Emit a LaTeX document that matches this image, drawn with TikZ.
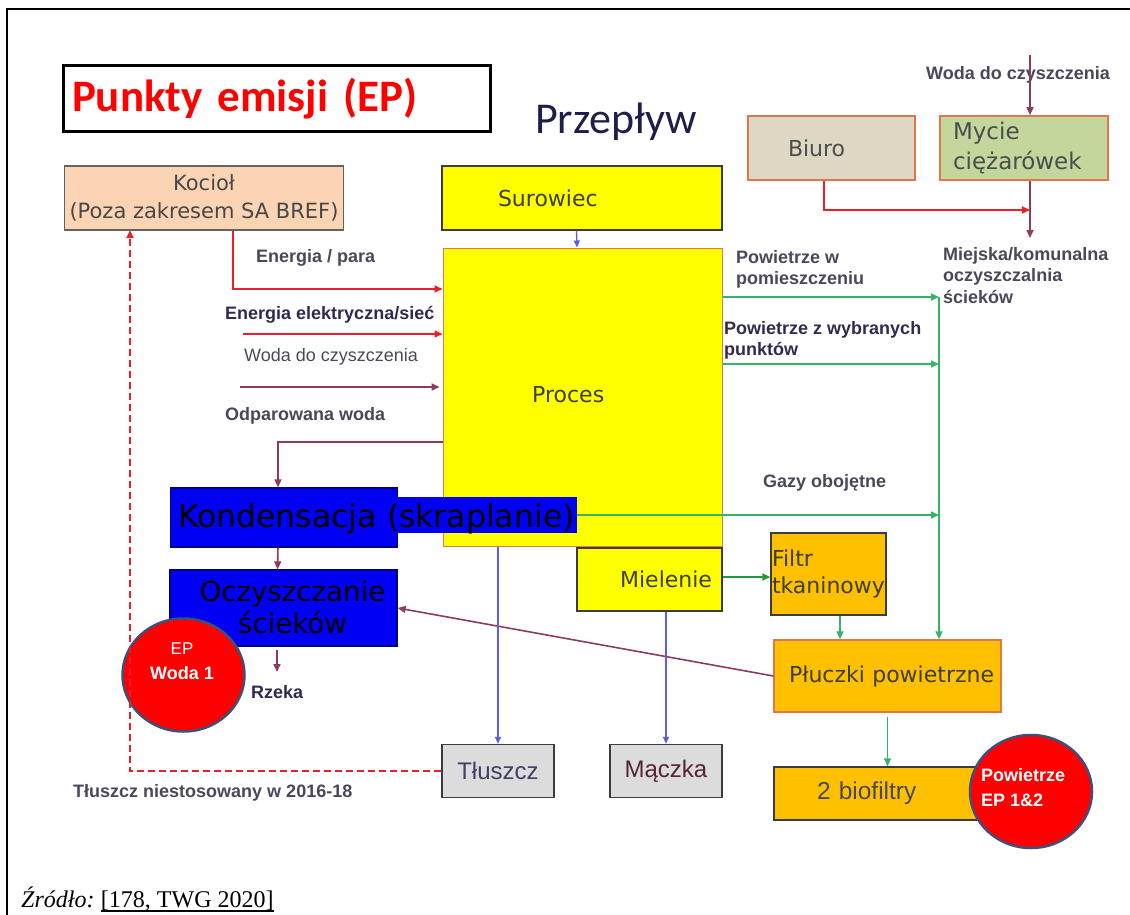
\documentclass[tikz,border=0pt]{standalone}
\usepackage{fontspec}
\setmainfont{Liberation Sans}
\newfontfamily\boxfont{DejaVu Sans}
\newfontfamily\titlefont{Carlito}
\newfontfamily\srcfont{Liberation Serif}
\usepackage{tikz}
\usetikzlibrary{positioning,arrows.meta,shapes.geometric,calc}

\definecolor{ProcYellow}{HTML}{FFFF00}
\definecolor{ProcEdge}{HTML}{E27A4A}
\definecolor{BoxEdge}{HTML}{3C3C3C}
\definecolor{BoxText}{HTML}{3E3E22}
\definecolor{BoilerFill}{HTML}{FBD4B4}
\definecolor{CondBlue}{HTML}{0000F2}
\definecolor{FilterFill}{HTML}{FFC000}
\definecolor{ProductFill}{HTML}{DCDCDC}
\definecolor{OfficeFill}{HTML}{DDD8C4}
\definecolor{WashFill}{HTML}{C3D69B}
\definecolor{SoftEdge}{HTML}{E0764E}
\definecolor{WaterLine}{HTML}{8E3A62}
\definecolor{EnergyLine}{HTML}{E8202A}
\definecolor{AirLine}{HTML}{34B468}
\definecolor{MillLine}{HTML}{1F9A3A}
\definecolor{SolidLine}{HTML}{5C5CF0}
\definecolor{LabelText}{HTML}{48485A}
\definecolor{DarkLabel}{HTML}{33294E}
\definecolor{EPRed}{HTML}{FF0000}
\definecolor{EPEdge}{HTML}{3F5078}
\definecolor{FlowTitle}{HTML}{1E1E4A}

\begin{document}
\begin{tikzpicture}[
  x=1pt, y=-1pt,
  box/.style={
    draw=BoxEdge,
    line width=1.3pt,
    inner sep=0pt,
    text=BoxText,
    font=\boxfont\fontsize{22}{27}\selectfont
  },
  proc/.style={box, fill=ProcYellow},
  filt/.style={box, fill=FilterFill},
  prod/.style={box, fill=ProductFill, font=\fontsize{24}{28}\selectfont},
  cond/.style={box, fill=CondBlue, draw=CondBlue!55!black, text=black},
  ep/.style={
    ellipse,
    draw=EPEdge,
    line width=2.5pt,
    fill=EPRed,
    minimum width=122pt,
    minimum height=113pt,
    inner sep=0pt
  },
  eptxt/.style={text=white, inner sep=0pt, font=\bfseries\fontsize{18}{25}\selectfont},
  lbl/.style={
    inner sep=0pt,
    align=left,
    text=LabelText,
    font=\bfseries\fontsize{18}{21.5}\selectfont
  },
  flow/.style={-{Triangle[length=8pt,width=7pt]}, line width=1.6pt},
  wflow/.style={flow, draw=WaterLine},
  eflow/.style={flow, draw=EnergyLine},
  aflow/.style={flow, draw=AirLine},
  mflow/.style={flow, draw=MillLine},
  sflow/.style={-{Triangle[length=7pt,width=6pt]}, line width=1.3pt, draw=SolidLine}
]
\useasboundingbox (0,0) rectangle (1130,915);

% page frame
\draw[line width=1.5pt] (7,915) -- (7,9) -- (1130,9);

% ---------------------------------------------------------
% headings
% ---------------------------------------------------------
\node[draw, line width=3pt, minimum height=66pt, inner xsep=9pt, text width=409pt,
      align=left, text=red, font=\titlefont\bfseries\fontsize{45}{50}\selectfont]
  (title) at (276.5,99) {\mbox{Punkty emisji (EP)}};

\node[anchor=base west, inner sep=0pt, text=FlowTitle,
      font=\titlefont\fontsize{44}{48}\selectfont]
  (flowtitle) at (535,134) {Przepływ};

% ---------------------------------------------------------
% main line
% ---------------------------------------------------------
\node[box, fill=BoilerFill, draw=BoxEdge!80, text=black!72, align=center,
      minimum width=279pt, minimum height=64pt,
      font=\boxfont\fontsize{21}{28}\selectfont]
  (kociol) at (204,198) {Kocioł\\(Poza zakresem SA BREF)};

\node[proc, minimum height=64pt, inner xsep=56pt, text width=168pt, align=left]
  (surowiec) at (582,198) {Surowiec};

\node[proc, draw=ProcEdge, line width=1pt, minimum width=279pt, minimum height=298pt]
  (proces) at (582.5,397) {};
\node[anchor=base west, inner sep=0pt, text=BoxText, font=\boxfont\fontsize{22}{27}\selectfont]
  (procestxt) at (532,402) {Proces};

\node[proc, minimum height=63pt, inner xsep=10pt, text width=125pt, align=right]
  (mielenie) at (649.5,579.5) {Mielenie};

\node[prod, minimum width=112pt, minimum height=53pt, text=FlowTitle!85]
  (tluszcz) at (498,771) {Tłuszcz};
\node[prod, minimum width=112pt, minimum height=53pt, text=WaterLine!60!black]
  (maczka) at (666,771) {Mączka};

% ---------------------------------------------------------
% water side
% ---------------------------------------------------------
\node[cond, minimum width=227pt, minimum height=59pt] (kond) at (284,517.5) {};
\node[anchor=base west, fill=CondBlue, inner xsep=2pt, inner ysep=0pt,
      text height=30pt, text depth=6pt, font=\boxfont\fontsize{31.5}{36}\selectfont]
  (kondtxt) at (176,527) {Kondensacja (skraplanie)};

\node[cond, minimum width=227pt, minimum height=76pt] (ocz) at (283.5,608) {};
\node[align=center, inner sep=0pt, font=\boxfont\fontsize{27.7}{32}\selectfont]
  (ocztxt) at (292.5,607) {Oczyszczanie\\ścieków};

\node[ep] (woda1) at (183.5,675) {};
\node[eptxt, align=center, anchor=north] (woda1txt) at (182,643)
  {{\mdseries\fontsize{17}{25}\selectfont EP}\\Woda 1};

% ---------------------------------------------------------
% air side
% ---------------------------------------------------------
\node[filt, minimum height=82pt, inner xsep=1pt, text width=113pt, align=left]
  (filtr) at (828.5,574) {Filtr\\tkaninowy};

\node[filt, draw=SoftEdge, minimum height=72pt, inner xsep=15pt, text width=197pt, align=left]
  (pluczki) at (887.5,676) {\mbox{Płuczki powietrzne}};

\node[filt, minimum height=53pt, inner xsep=43pt, text width=130pt, align=left,
      text=LabelText, font=\fontsize{24.5}{28}\selectfont]
  (biofilt) at (882,793.5) {2 biofiltry};

\node[ep] (powietrze) at (1031,791.5) {};
\node[eptxt, align=left, anchor=north west] (powietrzetxt) at (981,768)
  {Powietrze\\EP 1\&2};

% ---------------------------------------------------------
% office and truck washing
% ---------------------------------------------------------
\node[box, fill=OfficeFill, draw=SoftEdge, line width=1.6pt, text=black!70,
      minimum height=64pt, inner xsep=40pt, text width=87pt, align=left]
  (biuro) at (831.5,148) {Biuro};

\node[box, fill=WashFill, draw=SoftEdge, line width=1.6pt, text=black!70,
      minimum height=64pt, inner xsep=13pt, text width=142pt, align=left,
      font=\boxfont\fontsize{23}{30}\selectfont]
  (mycie) at (1024,148) {Mycie\\ciężarówek};

% ---------------------------------------------------------
% labels
% ---------------------------------------------------------
\node[lbl, anchor=base west] (lblpara) at (256,262) {Energia / para};
\node[lbl, anchor=base west, text=DarkLabel] (lblgrid) at (225,319) {Energia elektryczna/sieć};
\node[lbl, anchor=base west, font=\fontsize{18}{21.5}\selectfont] (lblclean) at (244,361) {Woda do czyszczenia};
\node[lbl, anchor=base west] (lblsteam) at (225,420) {Odparowana woda};
\node[lbl, anchor=north west] (lblroom) at (736,250) {Powietrze w\\pomieszczeniu};
\node[lbl, anchor=north west, text=DarkLabel] (lblpoints) at (724,321) {Powietrze z wybranych\\punktów};
\node[lbl, anchor=base west] (lblinert) at (763,487) {Gazy obojętne};
\node[lbl, anchor=north west] (lblcity) at (943,247) {Miejska/komunalna\\oczyszczalnia\\ścieków};
\node[lbl, anchor=base west] (lblwash) at (926,80) {Woda do czyszczenia};
\node[lbl, anchor=base west, text=DarkLabel] (lblriver) at (251,698) {Rzeka};
\node[lbl, anchor=base west] (lblfat) at (73,797) {Tłuszcz niestosowany w 2016-18};

% ---------------------------------------------------------
% flows
% ---------------------------------------------------------
\coordinate (gridin) at (243,334);
\coordinate (cleanin) at (240,387);
\coordinate (river) at (277,672);
\coordinate (fatback) at (130,230);
\coordinate (airbus) at (939,297);
\coordinate (washin) at (1030,55);
\coordinate (citywater) at (1030,238);

\draw[sflow] ([xshift=-5.5pt]surowiec.south) -- ([xshift=-5.5pt]proces.north);
\draw[eflow] ([xshift=29pt]kociol.south) |- (proces.west |- 0,289);
\draw[eflow] (gridin) -- (gridin -| proces.west);
\draw[wflow] (cleanin) -- ([xshift=-3pt]cleanin -| proces.west);
\draw[wflow] (proces.west |- 0,442) -| ([xshift=-6pt]kond.north);
\draw[wflow] ([xshift=-6pt]kond.south) -- ([xshift=-6pt]ocz.north);
\draw[wflow] (river |- 0,650) -- (river);
\draw[wflow] (pluczki.west) -- (ocz.east);

\draw[sflow] (tluszcz.north |- proces.south) -- (tluszcz.north);
\draw[sflow] (maczka.north |- mielenie.south) -- (maczka.north);
\draw[eflow, line width=2pt, dash pattern=on 7pt off 4pt] (tluszcz.west) -| (fatback);

\draw[aflow] (proces.east |- airbus) -- (airbus);
\draw[aflow] (proces.east |- 0,364) -- (airbus |- 0,364);
\draw[aflow] (kondtxt.east) -- (airbus |- kondtxt.east);
\draw[aflow] (airbus) -- (airbus |- pluczki.north);
\draw[mflow] (mielenie.east |- 0,577) -- (filtr.west |- 0,577);
\draw[aflow] ([xshift=11.5pt]filtr.south) -- ([xshift=11.5pt]filtr.south |- pluczki.north);
\draw[aflow] ([yshift=-4pt]pluczki.south) -- (pluczki.south |- biofilt.north);

\draw[wflow] (washin) -- (washin |- mycie.north);
\draw[wflow] (washin |- mycie.south) -- (citywater);
\draw[eflow] ([xshift=-7.5pt]biuro.south) |- (citywater |- 0,210);

% ---------------------------------------------------------
% source
% ---------------------------------------------------------
\node[anchor=base west, inner sep=0pt, font=\srcfont\itshape\fontsize{24}{28}\selectfont]
  (source) at (21,907) {Źródło:};
\node[right=6pt of source.base east, anchor=base west, inner sep=0pt,
      font=\srcfont\fontsize{24}{28}\selectfont]
  (sourceref) {[178, TWG 2020]};
\draw[line width=1.4pt] (sourceref.south west) -- (sourceref.south east);

\end{tikzpicture}
\end{document}
